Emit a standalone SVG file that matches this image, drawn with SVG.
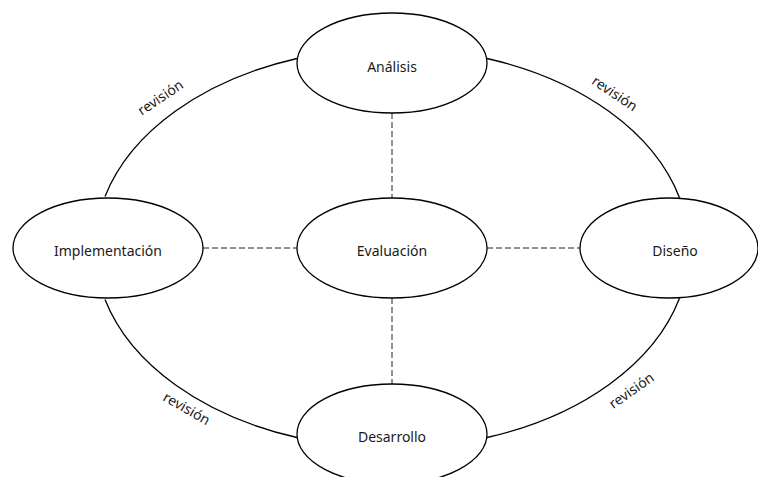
<svg xmlns="http://www.w3.org/2000/svg" width="758" height="477" viewBox="0 0 758 477">
<style>
.node ellipse{fill:#fff;stroke:#000;stroke-width:1.3}
text{font-family:"Noto Sans","Liberation Sans",sans-serif;font-size:14px;fill:#1a1a1a;text-anchor:middle;dominant-baseline:central}
.arc{fill:none;stroke:#000;stroke-width:1.3}
.dash{fill:none;stroke:#222;stroke-width:1;stroke-dasharray:6 3}
</style>
<rect width="758" height="477" fill="#fff"/>
<g id="connectors">
<path class="arc" d="M105,196.5 A297,200 0 0 1 297,58.5"/>
<path class="arc" d="M487,58.5 A297,200 0 0 1 679.6,198"/>
<path class="arc" d="M679.6,298 A297,200 0 0 1 487,437.5"/>
<path class="arc" d="M297,437.5 A297,200 0 0 1 105,299.5"/>
<line class="dash" x1="392" y1="113" x2="392" y2="198"/>
<line class="dash" x1="203" y1="248" x2="297" y2="248"/>
<line class="dash" x1="487" y1="248" x2="580" y2="248"/>
<line class="dash" x1="392" y1="298" x2="392" y2="384"/>
<text transform="translate(160,97) rotate(-34)">revisión</text>
<text transform="translate(615,93) rotate(34)">revisión</text>
<text transform="translate(187,408) rotate(30)">revisión</text>
<text transform="translate(631,390) rotate(-35)">revisión</text>
</g>
<g id="analisis" class="node"><ellipse cx="392" cy="63" rx="95" ry="50"/><text x="392" y="66">Análisis</text></g>
<g id="implementacion" class="node"><ellipse cx="108" cy="248" rx="95" ry="50"/><text x="108" y="250">Implementación</text></g>
<g id="evaluacion" class="node"><ellipse cx="392" cy="248" rx="95" ry="50"/><text x="392" y="250">Evaluación</text></g>
<g id="diseno" class="node"><ellipse cx="669" cy="248" rx="89" ry="50"/><text x="675" y="250">Diseño</text></g>
<g id="desarrollo" class="node"><ellipse cx="392" cy="434" rx="95" ry="50"/><text x="392" y="436">Desarrollo</text></g>
</svg>
